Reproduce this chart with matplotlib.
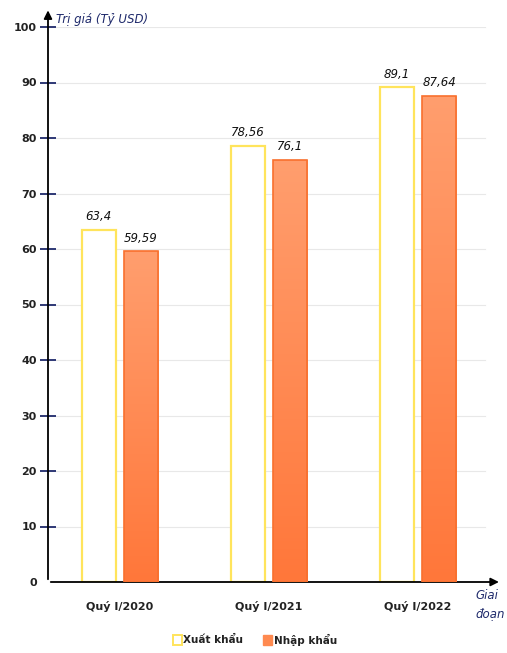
import matplotlib
matplotlib.use("Agg")
import matplotlib.pyplot as plt
import numpy as np
from matplotlib.patches import Rectangle
from matplotlib.colors import LinearSegmentedColormap

categories = ["Quý I/2020", "Quý I/2021", "Quý I/2022"]
xuat_khau = [63.4, 78.56, 89.1]
nhap_khau = [59.59, 76.1, 87.64]
xuat_labels = ["63,4", "78,56", "89,1"]
nhap_labels = ["59,59", "76,1", "87,64"]
yticks = list(range(0, 101, 10))

W, H = 507, 653
fig = plt.figure(figsize=(W/100, H/100), dpi=100)
left, right, bottom, top = 48, 495, 582, 27
ax = fig.add_axes([left/W, 1-bottom/H, (right-left)/W, (bottom-top)/H])
ax.set_xlim(-0.483, 2.517)
ax.set_ylim(0, 100)

x = np.arange(len(categories))
bw = 0.23
off = 0.142
navy = "#1F2A6B"

for v in yticks[1:]:
    ax.plot([-0.483, 2.45], [v, v], color="#E8E8E8", lw=0.8, zorder=0)

bx = ax.bar(x - off, xuat_khau, bw, facecolor="white", edgecolor="#FFE45C", lw=1.6, zorder=3)
bn = ax.bar(x + off, nhap_khau, bw, facecolor="#FF8A50", edgecolor="#F8702E", lw=1.2, zorder=4)

# gradient fill for import bars
grad = np.linspace(0, 1, 256).reshape(-1, 1)
cmap = LinearSegmentedColormap.from_list("g", ["#FF773A", "#FF9E6E"])
for r in bn:
    x0, y0, w, h = r.get_x(), r.get_y(), r.get_width(), r.get_height()
    im = ax.imshow(grad, extent=[x0, x0 + w, y0, y0 + h], origin="lower", cmap=cmap,
                   aspect="auto", zorder=3.5)
    im.set_clip_path(r)
    r.set_facecolor("none")

for i in range(len(categories)):
    ax.text(x[i] - off, xuat_khau[i] + 1.2, xuat_labels[i], ha="center", va="bottom",
            fontsize=8.5, style="italic", color="#111111")
    ax.text(x[i] + off, nhap_khau[i] + 1.2, nhap_labels[i], ha="center", va="bottom",
            fontsize=8.5, style="italic", color="#111111")

for s in ["top", "right", "left", "bottom"]:
    ax.spines[s].set_visible(False)

# axis lines with arrows
ax.annotate("", xy=(0, 1.035), xytext=(0, 0), xycoords="axes fraction",
            arrowprops=dict(arrowstyle="-|>", color="black", lw=1.3, mutation_scale=12))
ax.annotate("", xy=(1.015, 0), xytext=(0, 0), xycoords="axes fraction",
            arrowprops=dict(arrowstyle="-|>", color="black", lw=1.3, mutation_scale=12))

ax.set_yticks(yticks)
ax.set_yticklabels([str(v) for v in yticks], fontsize=8, fontweight="bold", color="#222222")
ax.tick_params(axis="y", direction="inout", length=12, width=1.3, color=navy, pad=2)
ax.yaxis.get_major_ticks()[0].tick1line.set_visible(False)

ax.set_xticks(x)
ax.set_xticklabels(categories, fontsize=8, fontweight="bold", color="#222222")
ax.tick_params(axis="x", length=0, pad=14)

fig.text(56/W, 1-20/H, "Trị giá (Tỷ USD)", fontsize=8.5, style="italic", color=navy,
         ha="left", va="center")
fig.text(475/W, 1-605/H, "Giai\nđoạn", fontsize=8.5, style="italic", color=navy,
         ha="left", va="center", linespacing=1.6)

# legend
fs = 7.5
fig.patches.append(Rectangle((173/W, 1-645/H), 9/W, 10/H, transform=fig.transFigure,
                             facecolor="white", edgecolor="#FFE45C", lw=1.4))
fig.text(183/W, 1-640/H, "Xuất khẩu", fontsize=fs, fontweight="bold", color="#222222",
         va="center", ha="left")
fig.patches.append(Rectangle((263/W, 1-645/H), 9/W, 10/H, transform=fig.transFigure,
                             facecolor="#FF8A50", edgecolor="#FF8A50", lw=1))
fig.text(274/W, 1-640/H, "Nhập khẩu", fontsize=fs, fontweight="bold", color="#222222",
         va="center", ha="left")

fig.savefig("out.png", dpi=100)
